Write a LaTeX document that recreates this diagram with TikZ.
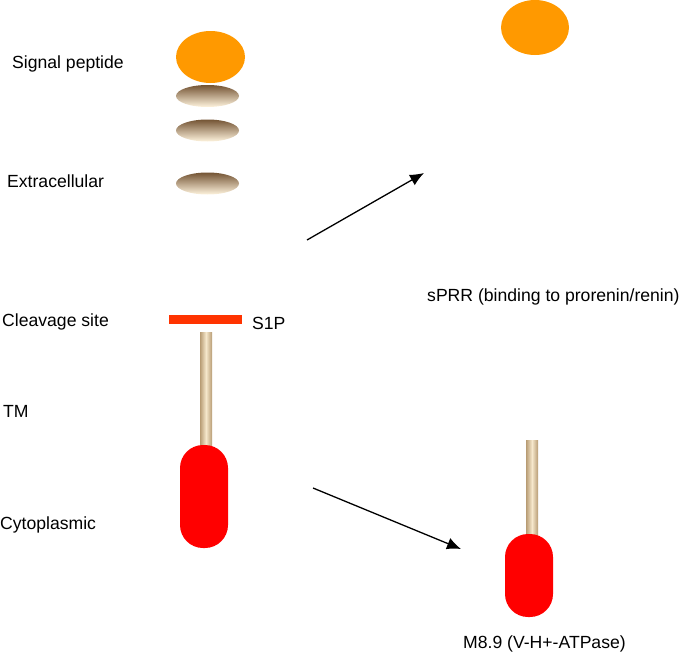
\documentclass[tikz,border=0pt]{standalone}
\usepackage{fontspec}
\setmainfont{Liberation Sans}
\usetikzlibrary{shapes,arrows.meta}
\definecolor{peptide}{HTML}{FF9900}
\definecolor{diskdark}{HTML}{745434}
\definecolor{disklight}{HTML}{FFF4DE}
\definecolor{rodedge}{HTML}{B89C74}
\definecolor{rodmid}{HTML}{F6E8CC}
\definecolor{cleave}{HTML}{FF3300}
\begin{document}
\begin{tikzpicture}[x=1pt,y=-1pt,
    lbl/.style={anchor=base west,inner sep=0pt,font=\fontsize{17.6}{20}\selectfont},
    pep/.style={ellipse,fill=peptide,inner sep=0pt,minimum width=69pt,minimum height=52pt},
    disk/.style={ellipse,inner sep=0pt,minimum width=63pt,minimum height=22pt,top color=diskdark,bottom color=disklight},
    rod/.style={rectangle,inner sep=0pt,minimum width=12pt,left color=rodedge,right color=rodedge,middle color=rodmid},
    capsule/.style={rectangle,inner sep=0pt,fill=red,minimum width=48pt,rounded corners=23pt},
    conv/.style={line width=1.3pt,-{Latex[length=14pt,width=12pt]}}]
    \useasboundingbox (0,0) rectangle (682,653);
    % labels
    \node[lbl] (lsig) at (12,68) {Signal peptide};
    \node[lbl] (lext) at (7,187) {Extracellular};
    \node[lbl] (lcut) at (2,326) {Cleavage site};
    \node[lbl] (ltm) at (3,417) {TM};
    \node[lbl] (lcyt) at (0,529) {Cytoplasmic};
    \node[lbl] (ls1p) at (252,329) {S1P};
    \node[lbl] (lsprr) at (427,301) {sPRR (binding to prorenin/renin)};
    \node[lbl] (lm89) at (463,648) {M8.9 (V-H+-ATPase)};
    % full receptor
    \node[pep] (sig) at (210.5,57) {};
    \node[disk] (d1) at (207.5,96) {};
    \node[disk] (d2) at (207.5,130.5) {};
    \node[disk] (d3) at (207.5,183.5) {};
    \node[rectangle,inner sep=0pt,fill=cleave,minimum width=73pt,minimum height=9pt] (cut) at (205.5,319.5) {};
    \node[rod,minimum height=116pt] (tm) at (206,390) {};
    \node[capsule,minimum height=103pt] (cyt) at (204,496.5) {};
    % products
    \node[pep,minimum width=68pt,minimum height=55pt] (spep) at (535,27.5) {};
    \node[rod,minimum height=96pt] (tm2) at (532,488) {};
    \node[capsule,minimum height=83pt] (cyt2) at (529,575.5) {};
    % arrows
    \coordinate (a1s) at (307,240);
    \coordinate (a1e) at (424,173);
    \coordinate (a2s) at (313,488);
    \coordinate (a2e) at (461,549);
    \draw[conv] (a1s) -- (a1e);
    \draw[conv] (a2s) -- (a2e);
\end{tikzpicture}
\end{document}
